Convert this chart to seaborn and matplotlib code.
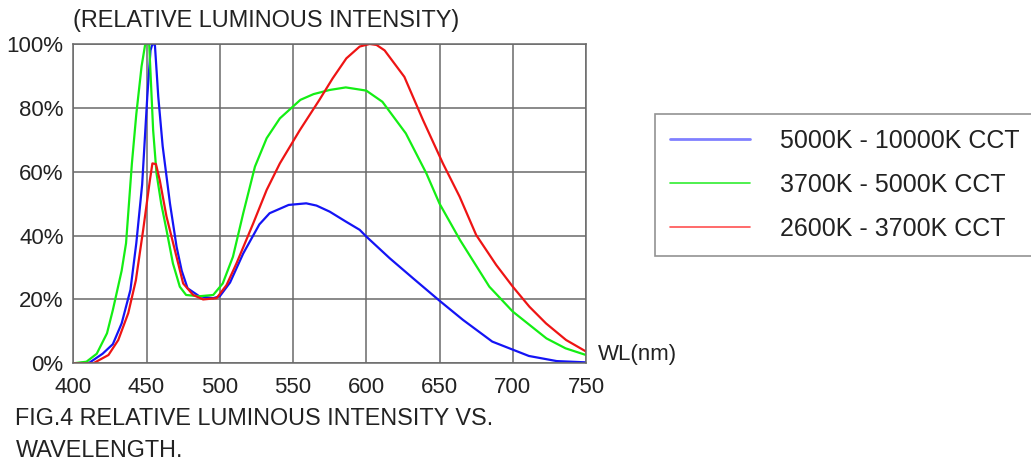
import numpy as np
import pandas as pd
import matplotlib
matplotlib.use("Agg")
import matplotlib.pyplot as plt
from matplotlib.lines import Line2D
import seaborn as sns

# Spectral curves: wavelength (nm) and relative intensity (%)
wl_cool = [400, 411, 420, 427, 433, 439, 443, 447, 450.5, 452.7, 454, 455.7, 458, 461, 466,
           470.5, 474, 478, 486, 495.5, 500, 507, 516, 527, 534, 547, 559, 566, 575, 586,
           595.5, 600, 616, 632, 650, 666, 686, 711, 730, 750]
int_cool = [0, 0.2, 3, 6, 12.5, 23, 37.6, 56, 83.5, 98, 100, 99.7, 83.5, 68, 50,
            36.5, 29, 23.5, 21, 20.4, 21, 25.3, 34.4, 43.5, 47, 49.6, 50.1, 49.4, 47.5, 44.4,
            41.8, 39.7, 32.9, 26.6, 19.6, 13.6, 6.8, 2.3, 0.7, 0.3]

wl_neutral = [400, 409, 416, 423, 427, 433, 436, 440, 443, 446.6, 449, 450, 451.8, 454.5, 456.8,
              460, 463.6, 468, 472.7, 477, 486, 495.5, 502, 509, 516, 524, 532, 541, 555,
              564, 575, 586, 600, 611, 627, 641, 650, 664, 684, 700, 723, 736, 750]
int_neutral = [0, 0.5, 3, 9.4, 16.7, 29, 37.6, 62.6, 78, 93, 99.7, 100, 100, 73, 59.5,
               50, 41.8, 31.3, 24, 21.4, 21, 21.4, 25, 33.4, 47, 61.6, 70.5, 76.7, 82.5,
               84.3, 85.6, 86.4, 85.4, 81.9, 72, 59.5, 50, 38.6, 24, 16.2, 7.8, 4.7, 2.6]

wl_warm = [400, 413.6, 424, 430.7, 437.5, 442.7, 447.7, 452.3, 454, 456.4, 459, 463.6, 469.3,
           475, 481.8, 488.6, 497.8, 504.6, 511.4, 522.8, 532, 541, 554.6, 568, 577, 586.4,
           595.5, 602.3, 607, 612.5, 626, 638.7, 652.3, 663.7, 675, 688.7, 700, 711.4, 722.7,
           736.4, 750]
int_warm = [0, 0, 2.6, 7.3, 15.7, 26, 41.8, 57.4, 62.6, 62.4, 57.4, 46, 35.5,
            25, 21.4, 20, 20.4, 24.5, 31.3, 43.8, 54.3, 62.6, 73, 82.5, 89.2, 95.5,
            99.2, 100, 99.7, 98, 89.7, 76.2, 62.6, 52.2, 40.2, 30.8, 24, 17.7, 12.5,
            7.3, 3.7]

series_labels = ["5000K - 10000K CCT", "3700K - 5000K CCT", "2600K - 3700K CCT"]
x_ticks = [400, 450, 500, 550, 600, 650, 700, 750]
y_ticks = [0, 20, 40, 60, 80, 100]

frames = []
for lbl, xs, ys in zip(series_labels, [wl_cool, wl_neutral, wl_warm],
                       [int_cool, int_neutral, int_warm]):
    frames.append(pd.DataFrame({"wl": xs, "intensity": ys, "series": lbl}))
df = pd.concat(frames, ignore_index=True)

sns.set_style("white")
plt.rcParams["font.family"] = ["Liberation Sans", "DejaVu Sans"]

colors = {series_labels[0]: "#1414f5",
          series_labels[1]: "#14ee14",
          series_labels[2]: "#ee1414"}

fig = plt.figure(figsize=(10.31, 4.62), dpi=100)
ax = fig.add_axes([0.0711, 0.2136, 0.4973, 0.6912])

sns.lineplot(data=df, x="wl", y="intensity", hue="series", palette=colors,
             sort=False, estimator=None, linewidth=1.6, legend=False, ax=ax)

ax.set_xlim(400, 750)
ax.set_ylim(0, 100)
ax.set_xticks(x_ticks)
ax.set_yticks(y_ticks)
ax.set_xticklabels([str(v) for v in x_ticks])
ax.set_yticklabels([f"{v}%" for v in y_ticks])
ax.set_xlabel("")
ax.set_ylabel("")
ax.grid(True, color="#6a6a6a", linewidth=1.1)
ax.set_axisbelow(True)
for sp in ax.spines.values():
    sp.set_color("#6a6a6a")
    sp.set_linewidth(1.1)
ax.tick_params(axis="y", length=0, labelsize=16, colors="#222222", pad=7)
ax.tick_params(axis="x", length=0, labelsize=16, colors="#222222", pad=10)

fig.text(0.071, 0.955, "(RELATIVE LUMINOUS INTENSITY)", fontsize=16.9,
         color="#222222", ha="left", va="center")
fig.text(0.580, 0.232, "WL(nm)", fontsize=16, color="#222222", ha="left", va="center")
fig.text(0.015, 0.094, "FIG.4 RELATIVE LUMINOUS INTENSITY VS.", fontsize=16.8,
         color="#222222", ha="left", va="center")
fig.text(0.015, 0.025, "WAVELENGTH.", fontsize=16.8, color="#222222",
         ha="left", va="center")

handles = [Line2D([], [], color="#8080ff", linewidth=2.0),
           Line2D([], [], color="#30ee30", linewidth=1.2),
           Line2D([], [], color="#ff5050", linewidth=1.2)]
leg = fig.legend(handles, series_labels, loc="upper left",
                 bbox_to_anchor=(0.635, 0.753), fontsize=18, frameon=True,
                 fancybox=False, edgecolor="#777777", handlelength=3.2,
                 handletextpad=1.2, borderpad=0.6, labelspacing=0.8,
                 borderaxespad=0)
leg.get_frame().set_linewidth(1.2)
for t in leg.get_texts():
    t.set_color("#222222")

fig.savefig("out.png", dpi=100)
